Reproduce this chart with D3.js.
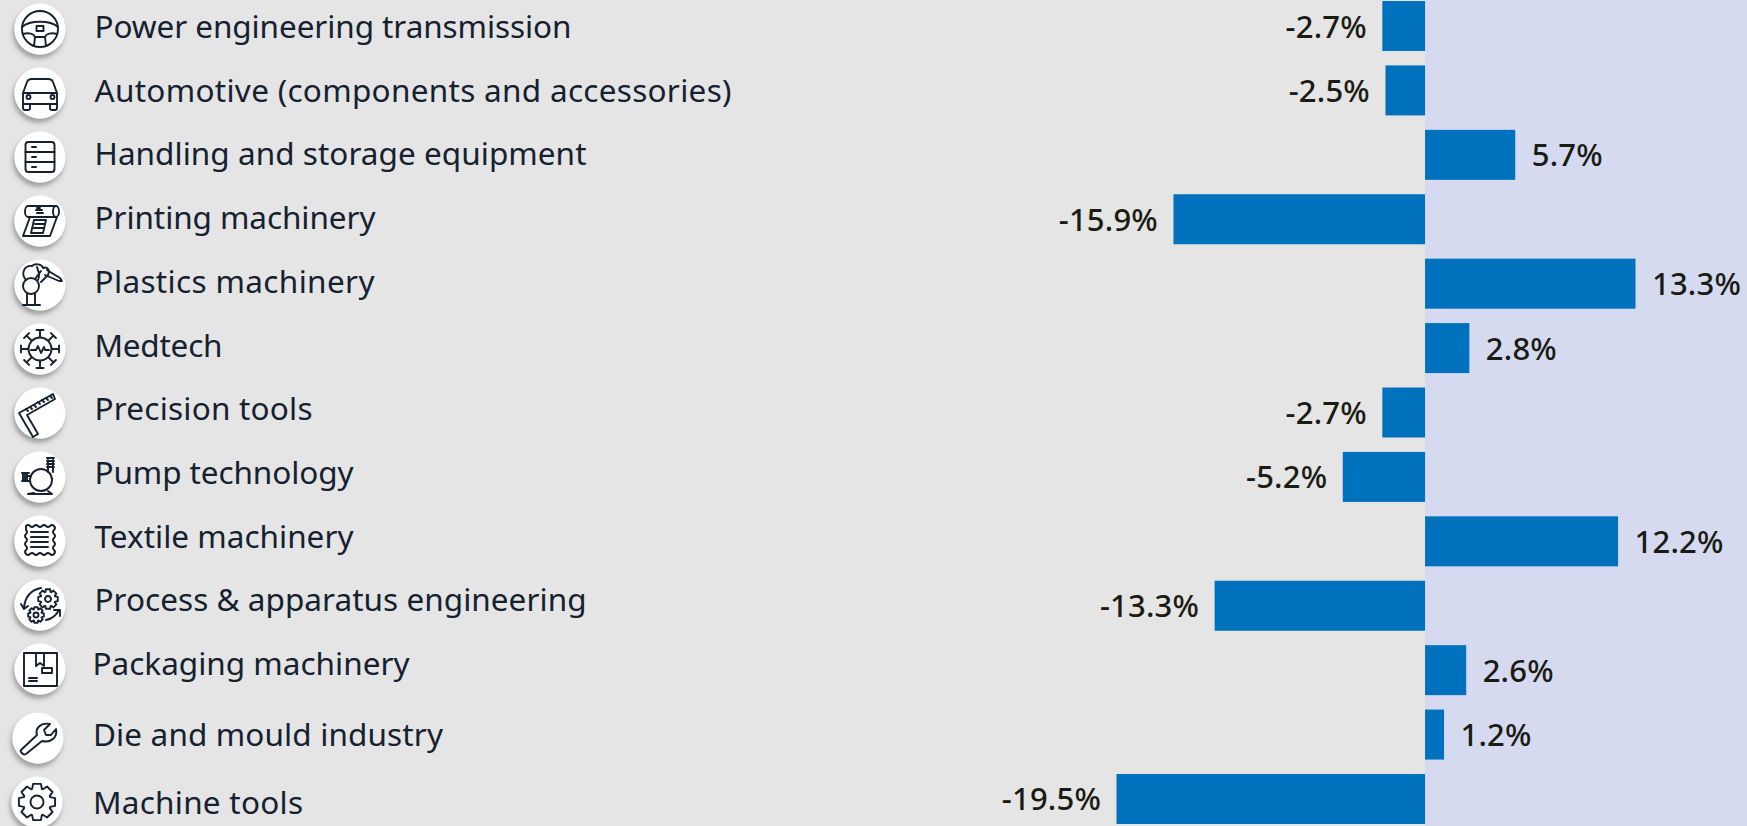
<!DOCTYPE html>
<html>
<head>
<meta charset="utf-8">
<style>
html, body { margin: 0; padding: 0; background: #e5e5e5; overflow: hidden; }
svg { display: block; }
.cat { font: 400 31.5px "Noto Sans", sans-serif; fill: #15212f; }
.val { font: 500 31px "Noto Sans", sans-serif; fill: #1a1c14; letter-spacing: 0.2px; }
.icon * { fill: none; stroke: #15212f; stroke-width: 1.9; stroke-linejoin: round; stroke-linecap: round; }
</style>
</head>
<body>
<svg width="1747" height="826"></svg>
<script src="https://d3js.org/d3.v7.min.js"></script>
<script>
var categories = ["Power engineering transmission", "Automotive (components and accessories)",
  "Handling and storage equipment", "Printing machinery", "Plastics machinery", "Medtech",
  "Precision tools", "Pump technology", "Textile machinery", "Process & apparatus engineering",
  "Packaging machinery", "Die and mould industry", "Machine tools"];
var values = [-2.7, -2.5, 5.7, -15.9, 13.3, 2.8, -2.7, -5.2, 12.2, -13.3, 2.6, 1.2, -19.5];

var width = 1747, height = 826;

// the labels and icons in the original are not quite on a grid, so nudge them per row
var labelDx = [0, 0, 0, 0, 0, 0, 0, 0, 0, 0, -2, -1.5, -1.5];
var labelDy = [0, 0, 0, 0, 0, 0, 0, 0, 0, 0, 0, 7, 12];
var iconDx = [0, 0, 0, 0, 0, 0, 0, 0, 0, 0, 0, -2, -3];
var iconDy = [0, 0, 0, 0, 0, 0, 0, 0, 0, 0, 0, 5, 5];
// rendered label widths in the original (its font is not installed here)
var labelWidths = [477, 637, 492, 281, 280, 128, 218, 259, 259, 492, 317, 350, 210];

var svg = d3.select("svg");

var x = d3.scaleLinear().domain([-19.5, 13.3]).range([1116.5, 1635.5]);
var y = d3.scaleBand().domain(categories).range([1, 824]).paddingInner(0.2238);
// labels and icons run on a slightly tighter pitch than the bars
var labelY = d3.scalePoint().domain(categories).range([38, 802.4]);
var iconY = d3.scalePoint().domain(categories).range([29, 797]);

var fmt = function(d) { return d.toFixed(1) + "%"; };

// shadow for the icon discs
var shadow = svg.append("defs").append("filter")
  .attr("id", "disc-shadow")
  .attr("x", "-30%").attr("y", "-30%").attr("width", "160%").attr("height", "170%");
shadow.append("feDropShadow")
  .attr("dx", -1.5).attr("dy", 4).attr("stdDeviation", 2.5)
  .attr("flood-color", "#000").attr("flood-opacity", 0.32);

svg.append("rect").attr("width", width).attr("height", height).attr("fill", "#e5e5e5");
svg.append("rect")
  .attr("x", x(0)).attr("width", width - x(0)).attr("height", height)
  .attr("fill", "#d6daf0");

svg.append("g").selectAll("rect")
  .data(values).enter().append("rect")
  .attr("x", function(d) { return Math.min(x(d), x(0)); })
  .attr("y", function(d, i) { return y(categories[i]); })
  .attr("width", function(d) { return Math.abs(x(d) - x(0)); })
  .attr("height", y.bandwidth())
  .attr("fill", "#0071bc");

svg.append("g").selectAll("text")
  .data(values).enter().append("text")
  .attr("class", "val")
  .attr("x", function(d) { return d < 0 ? x(d) - 15.5 : x(d) + 16.5; })
  .attr("y", function(d, i) { return y(categories[i]) + y.bandwidth() / 2 + 11.5; })
  .attr("text-anchor", function(d) { return d < 0 ? "end" : "start"; })
  .text(fmt);

svg.append("g").selectAll("text")
  .data(categories).enter().append("text")
  .attr("class", "cat")
  .attr("x", function(d, i) { return 94.5 + labelDx[i]; })
  .attr("y", function(d, i) { return labelY(d) + labelDy[i]; })
  .attr("textLength", function(d, i) { return labelWidths[i]; })
  .attr("lengthAdjust", "spacing")
  .text(function(d) { return d; });

// --- icons, drawn in a local system centred on the disc ---
function gearPath(r1, r2, teeth) {
  var pts = [], step = Math.PI * 2 / teeth;
  for (var t = 0; t < teeth; t++) {
    var a = t * step;
    [[-0.5, r1], [-0.3, r2], [0.3, r2], [0.5, r1]].forEach(function(p) {
      var b = a + p[0] * step * 0.9;
      pts.push([p[1] * Math.cos(b), p[1] * Math.sin(b)]);
    });
  }
  return "M" + pts.join("L") + "Z";
}
function shape(g, tag, attrs) {
  var el = g.append(tag);
  Object.keys(attrs).forEach(function(k) { el.attr(k, attrs[k]); });
  return el;
}
function gear(g, cx, cy, r1, r2, teeth, hole) {
  var sub = g.append("g").attr("transform", "translate(" + cx + "," + cy + ")");
  shape(sub, "path", {d: gearPath(r1, r2, teeth)});
  shape(sub, "circle", {r: hole});
}

var iconDraw = [
  function(g) { // steering wheel
    shape(g, "circle", {r: 18});
    shape(g, "path", {d: "M-18,-2C-10,-9 10,-9 18,-2M-17,5C-11,3 -6,5 -5,8L-6,17M17,5C11,3 6,5 5,8L6,17M-5,8H5"});
    shape(g, "rect", {x: -3.5, y: -3, width: 7, height: 5});
  },
  function(g) { // car
    shape(g, "path", {d: "M-17,11V0L-13,-11Q-12,-14 -8,-14H8Q12,-14 13,-11L17,0V11ZM-17,0H17"});
    shape(g, "path", {d: "M-17,11V15Q-17,17 -15,17H-12Q-10,17 -10,15V11M17,11V15Q17,17 15,17H12Q10,17 10,15V11"});
    shape(g, "circle", {cx: -11.5, cy: 4, r: 2});
    shape(g, "circle", {cx: 12.5, cy: 4, r: 2});
  },
  function(g) { // storage rack
    shape(g, "rect", {x: -14.5, y: -15, width: 29, height: 30, rx: 3});
    shape(g, "path", {d: "M-14.5,-5H14.5M-14.5,5H14.5M-8,-10H-4M-8,0H-4M-8,10H-4"});
  },
  function(g) { // printing
    shape(g, "path", {d: "M-12,-15H16M-12,-4H16M-12,-15A3,5.5 0 0 0 -12,-4"});
    shape(g, "ellipse", {cx: 16, cy: -9.5, rx: 3, ry: 5.5});
    shape(g, "path", {d: "M-10,-4L-17,15H10L17,-4M-4,-11H2M-3,-8H3M-3,-13H0"});
    shape(g, "path", {d: "M-6,-1H6L3,12H-9ZM-5,3H5M-6,7H4"});
  },
  function(g) { // robot arm
    shape(g, "circle", {cx: -9, cy: 1, r: 8});
    shape(g, "path", {d: "M-14,-5C-20,-12 -15,-20 -8,-19C-5,-22 2,-21 3,-17C8,-19 10,-14 8,-10L1,-3M-5,-6L1,-14M-3,-18C-1,-12 0,-10 -2,-5"});
    shape(g, "path", {d: "M-13,8V20M-5,8V20M-17,20H0M7,-15L20,-7L22,-4L19,-4L5,-10"});
  },
  function(g) { // virus with pulse
    shape(g, "circle", {r: 11.5});
    [0, 45, 90, 135, 180, 225, 270, 315].forEach(function(a) {
      shape(g, "path", {d: "M12,0H19M19,-3.5V3.5", transform: "rotate(" + a + ")"});
    });
    shape(g, "path", {d: "M-9,1H-4L-2,-3L1,4L4,-2L5,1H9"});
  },
  function(g) { // carpenter's square
    shape(g, "path", {d: "M-21,0L13,-19L15,-14L-13,2L-2,21L-7,24L-21,0Z"});
    shape(g, "path", {d: "M-14,-4L-12,-2M-10,-6L-8,-4M-6,-8L-4,-6M-2,-11L0,-9M2,-13L4,-11M6,-15L8,-13M10,-17L12,-15"});
  },
  function(g) { // pump
    shape(g, "circle", {cx: 1, cy: 3, r: 11});
    shape(g, "path", {d: "M-9,-1H-12M-6,16L-12,17H12L8,14M8,-5V-17M13,-5V-17"});
    shape(g, "path", {d: "M7,-19H14M7,-16H14M7,-13H14M7,-10H14"});
    shape(g, "path", {d: "M-17,-4V4M-15,-4V4M-13,-4V4M-18,-4H-11M-18,4H-11"});
  },
  function(g) { // textile swatch
    shape(g, "path", {d: "M-14,-15Q-12,-17 -10,-15T-6,-15T-2,-15T2,-15T6,-15T10,-15T14,-15Q16,-13 14,-11T14,-7T14,-3T14,1T14,5T14,9T14,13Q12,15 10,13T6,13T2,13T-2,13T-6,13T-10,13T-14,13Q-16,11 -14,9T-14,5T-14,1T-14,-3T-14,-7T-14,-11Z"});
    shape(g, "path", {d: "M-9,-9H9M-9,-4H9M-9,1H9M-9,6H9", "stroke-dasharray": "2 1"});
  },
  function(g) { // process, two gears and arrows
    gear(g, 8, -6, 7.5, 10, 8, 3);
    gear(g, -4, 10, 6, 8, 8, 2.5);
    shape(g, "path", {d: "M1,-17C-9,-15 -15,-8 -16,3M-19,-1L-16,4L-12,1M6,15C11,14 16,11 19,5M14,5H20V11"});
  },
  function(g) { // parcel
    shape(g, "rect", {x: -16, y: -16, width: 33, height: 33});
    shape(g, "path", {d: "M-4,-16V-3L0,-6L4,-3V-16M-11,9H-3M-11,12H-3"});
    shape(g, "rect", {x: 2, y: -1, width: 10, height: 5});
  },
  function(g) { // wrench
    shape(g, "path", {d: "M-15,16L-17,14Q-18,13 -17,12L-1,-3C-3,-9 2,-16 12,-14L6,-8L8,-3L13,-3L18,-9C20,0 12,5 4,3L-12,16Q-14,17 -15,16Z"});
  },
  function(g) { // gear
    gear(g, 0, 0, 14, 18.5, 8, 6.5);
  }
];

var icons = svg.append("g").selectAll("g")
  .data(categories).enter().append("g")
  .attr("transform", function(d, i) {
    return "translate(" + (40 + iconDx[i]) + "," + (iconY(d) + iconDy[i]) + ")";
  });
icons.append("circle").attr("r", 25.5).attr("fill", "#fff").attr("filter", "url(#disc-shadow)");
icons.append("g").attr("class", "icon").each(function(d, i) { iconDraw[i](d3.select(this)); });
</script>
</body>
</html>
